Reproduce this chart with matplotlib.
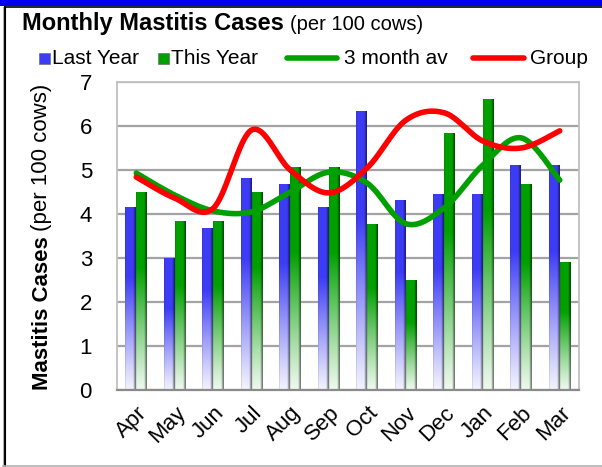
import matplotlib
matplotlib.use("Agg")
import matplotlib.pyplot as plt
from matplotlib.patches import Rectangle
from matplotlib.lines import Line2D
from matplotlib.colors import to_rgb
import numpy as np

plt.rcParams['font.family'] = ['Liberation Sans', 'DejaVu Sans']

months = ['Apr', 'May', 'Jun', 'Jul', 'Aug', 'Sep', 'Oct', 'Nov', 'Dec', 'Jan', 'Feb', 'Mar']
last_year = [4.14, 2.98, 3.66, 4.80, 4.66, 4.14, 6.32, 4.30, 4.45, 4.45, 5.11, 5.11]
this_year = [4.50, 3.84, 3.82, 4.50, 5.05, 5.05, 3.77, 2.48, 5.84, 6.61, 4.66, 2.89]
three_month_av = [4.93, 4.43, 4.07, 4.05, 4.50, 4.95, 4.70, 3.78, 4.14, 5.11, 5.73, 4.77]
group = [4.84, 4.36, 4.13, 5.91, 5.00, 4.48, 5.05, 6.13, 6.30, 5.66, 5.50, 5.89]

BLUE = '#3c3cf5'
GREEN = '#00a000'
RED = '#ff0000'
W, H = 602, 467


def smooth(x, y, n=40):
    # Excel-style smoothed line (Bezier through the points)
    p = np.column_stack([x, y]).astype(float)
    segs = []
    t = np.linspace(0, 1, n)[:, None]
    for i in range(len(p) - 1):
        p0 = p[max(i - 1, 0)]
        p1 = p[i]
        p2 = p[i + 1]
        p3 = p[min(i + 2, len(p) - 1)]
        c1 = p1 + (p2 - p0) / 6
        c2 = p2 - (p3 - p1) / 6
        segs.append((1 - t) ** 3 * p1 + 3 * (1 - t) ** 2 * t * c1
                    + 3 * (1 - t) * t ** 2 * c2 + t ** 3 * p2)
    s = np.vstack(segs)
    return s[:, 0], s[:, 1]


def grad_bar(ax, x, h, w, color):
    ny, nx = 80, 14
    t = np.linspace(0, 1, ny)[:, None, None]
    mix = 0.07 + 0.93 * np.clip(t / 0.62, 0, 1) ** 1.1
    base = np.array(to_rgb(color))[None, None, :]
    rows = 1 - mix * (1 - base)
    shade = np.ones(nx)
    shade[0] = 0.88
    shade[-3:] = [0.8, 0.62, 0.5]
    img = rows * shade[None, :, None]
    ax.imshow(np.clip(img, 0, 1), extent=[x - w / 2, x + w / 2, 0, h], origin='lower',
              aspect='auto', zorder=2, interpolation='bilinear')


fig = plt.figure(figsize=(W / 100, H / 100), dpi=100)
ax = fig.add_axes([117 / W, 1 - 390 / H, (579 - 117) / W, (390 - 82) / H])

x = np.arange(len(months))
bw = 0.285
for i in range(len(months)):
    grad_bar(ax, x[i] - bw / 2, last_year[i], bw, BLUE)
    grad_bar(ax, x[i] + bw / 2, this_year[i], bw, GREEN)

gx, gy = smooth(x, three_month_av)
ax.plot(gx, gy, color=GREEN, lw=4, solid_capstyle='round', zorder=4)
rx, ry = smooth(x, group)
ax.plot(rx, ry, color=RED, lw=4, solid_capstyle='round', zorder=5)

ax.set_xlim(-0.5, 11.5)
ax.set_ylim(0, 7)
ax.set_yticks(range(8))
ax.yaxis.grid(True, color='#a3a3a3', lw=1.6)
ax.set_axisbelow(True)
ax.set_xticks(x)
ax.set_xticklabels(months, rotation=45, ha='right', va='top', rotation_mode='anchor')
ax.tick_params(axis='both', length=0, labelsize=16)
ax.tick_params(axis='y', pad=18)
ax.tick_params(axis='x', pad=9)
for s in ['top', 'left', 'right']:
    ax.spines[s].set_color('#c0c0c0')
    ax.spines[s].set_linewidth(1.3)
ax.spines['bottom'].set_color('#8a8a8a')
ax.spines['bottom'].set_linewidth(1.6)

# y label: bold part + regular part
fig.text(42 / W, 1 - 390 / H, 'Mastitis Cases', rotation=90, fontsize=16,
         fontweight='bold', ha='left', va='center', rotation_mode='anchor')
fig.text(42 / W, 1 - 231 / H, '(per 100 cows)', rotation=90, fontsize=16,
         ha='left', va='center', rotation_mode='anchor')

# title
fig.text(22 / W, 1 - 30 / H, 'Monthly Mastitis Cases', fontsize=17,
         fontweight='bold', va='baseline')
fig.text(290 / W, 1 - 30 / H, '(per 100 cows)', fontsize=14.5, va='baseline')

# legend
ly = 1 - 58 / H
for x0, c in [(39, BLUE), (158, GREEN)]:
    fig.patches.append(Rectangle((x0 / W, ly - 5.5 / H), 11 / W, 11 / H, facecolor=c,
                                 edgecolor='#606060', lw=0.4, transform=fig.transFigure))
fig.lines.append(Line2D([287 / W, 337 / W], [ly, ly], color=GREEN, lw=4,
                        solid_capstyle='round', transform=fig.transFigure))
fig.lines.append(Line2D([473 / W, 524 / W], [ly, ly], color=RED, lw=4,
                        solid_capstyle='round', transform=fig.transFigure))
for x0, txt in [(52, 'Last Year'), (171, 'This Year'), (344, '3 month av'), (530, 'Group')]:
    fig.text(x0 / W, ly, txt, fontsize=15, va='center')

# outer frame
fig.patches.append(Rectangle((0, 1 - 6 / H), 1, 6 / H, facecolor='#0000f0',
                             edgecolor='none', transform=fig.transFigure))
fig.lines.append(Line2D([5 / W, 1], [1 - 6.5 / H, 1 - 6.5 / H], color='black', lw=1.2,
                        transform=fig.transFigure))
fig.lines.append(Line2D([5 / W, 5 / W], [1 - 6.5 / H, 1 - 466 / H], color='black', lw=1.5,
                        transform=fig.transFigure))
fig.lines.append(Line2D([3 / W, 3 / W], [1 - 6.5 / H, 1 - 466 / H], color='#b0b0b0', lw=0.8,
                        transform=fig.transFigure))
fig.lines.append(Line2D([3 / W, 1], [1 - 466 / H, 1 - 466 / H], color='#b0b0b0', lw=1.2,
                        transform=fig.transFigure))

fig.savefig('out.png', dpi=100)
